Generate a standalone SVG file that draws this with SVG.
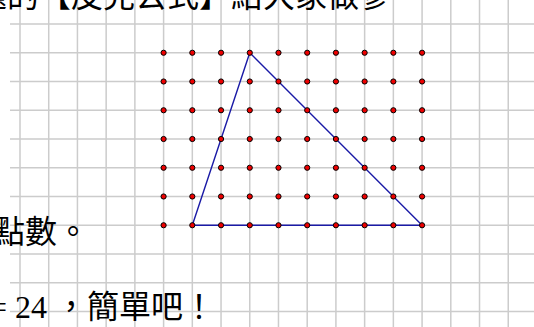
<svg xmlns="http://www.w3.org/2000/svg" xmlns:xlink="http://www.w3.org/1999/xlink" width="534" height="327" viewBox="0 0 534 327">
  <style>
    .grid { stroke: #cccccc; stroke-width: 1.5; fill: none; }
    .edge { stroke: #1a1aa6; stroke-width: 1.4; fill: none; stroke-linejoin: round; }
    .pt { fill: #ee0000; stroke: #000000; stroke-width: 1; }
    .txt { font-family: "Liberation Serif", "Noto Sans CJK TC", serif; font-size: 32px; fill: #000000; }
  </style>
  <defs>
    <circle id="dot" r="2.6" class="pt"/>
  </defs>
  <rect x="0" y="0" width="534" height="327" fill="#ffffff"/>
  <g id="grid" class="grid">
    <path d="M20,0V327 M48.72,0V327 M77.44,0V327 M106.16,0V327 M134.88,0V327 M163.6,0V327 M192.32,0V327 M221.04,0V327 M249.76,0V327 M278.48,0V327 M307.2,0V327 M335.92,0V327 M364.64,0V327 M393.36,0V327 M422.08,0V327 M450.8,0V327 M479.52,0V327 M508.24,0V327"/>
    <path d="M10,24H534 M10,52.75H534 M10,81.5H534 M10,110.25H534 M10,139H534 M10,167.75H534 M10,196.5H534 M10,225.25H534 M10,254H534 M10,282.75H534 M10,311.5H534"/>
  </g>
  <g id="texts">
    <text class="txt" x="-25" y="7">題的【皮克公式】給大家做參</text>
    <text class="txt" x="-7" y="243">點數。</text>
    <text class="txt" x="-11" y="318">= 24 ，簡單吧！</text>
  </g>
  <g id="connectors">
    <path id="triangle" class="edge" d="M192.32,225.25 L249.76,52.75 L422.08,225.25 Z"/>
  </g>
  <g id="points">
    <g id="row1">
      <use xlink:href="#dot" x="163.6" y="52.75"/><use xlink:href="#dot" x="192.32" y="52.75"/><use xlink:href="#dot" x="221.04" y="52.75"/><use xlink:href="#dot" x="249.76" y="52.75"/><use xlink:href="#dot" x="278.48" y="52.75"/><use xlink:href="#dot" x="307.2" y="52.75"/><use xlink:href="#dot" x="335.92" y="52.75"/><use xlink:href="#dot" x="364.64" y="52.75"/><use xlink:href="#dot" x="393.36" y="52.75"/><use xlink:href="#dot" x="422.08" y="52.75"/>
    </g>
    <g id="row2">
      <use xlink:href="#dot" x="163.6" y="81.5"/><use xlink:href="#dot" x="192.32" y="81.5"/><use xlink:href="#dot" x="221.04" y="81.5"/><use xlink:href="#dot" x="249.76" y="81.5"/><use xlink:href="#dot" x="278.48" y="81.5"/><use xlink:href="#dot" x="307.2" y="81.5"/><use xlink:href="#dot" x="335.92" y="81.5"/><use xlink:href="#dot" x="364.64" y="81.5"/><use xlink:href="#dot" x="393.36" y="81.5"/><use xlink:href="#dot" x="422.08" y="81.5"/>
    </g>
    <g id="row3">
      <use xlink:href="#dot" x="163.6" y="110.25"/><use xlink:href="#dot" x="192.32" y="110.25"/><use xlink:href="#dot" x="221.04" y="110.25"/><use xlink:href="#dot" x="249.76" y="110.25"/><use xlink:href="#dot" x="278.48" y="110.25"/><use xlink:href="#dot" x="307.2" y="110.25"/><use xlink:href="#dot" x="335.92" y="110.25"/><use xlink:href="#dot" x="364.64" y="110.25"/><use xlink:href="#dot" x="393.36" y="110.25"/><use xlink:href="#dot" x="422.08" y="110.25"/>
    </g>
    <g id="row4">
      <use xlink:href="#dot" x="163.6" y="139"/><use xlink:href="#dot" x="192.32" y="139"/><use xlink:href="#dot" x="221.04" y="139"/><use xlink:href="#dot" x="249.76" y="139"/><use xlink:href="#dot" x="278.48" y="139"/><use xlink:href="#dot" x="307.2" y="139"/><use xlink:href="#dot" x="335.92" y="139"/><use xlink:href="#dot" x="364.64" y="139"/><use xlink:href="#dot" x="393.36" y="139"/><use xlink:href="#dot" x="422.08" y="139"/>
    </g>
    <g id="row5">
      <use xlink:href="#dot" x="163.6" y="167.75"/><use xlink:href="#dot" x="192.32" y="167.75"/><use xlink:href="#dot" x="221.04" y="167.75"/><use xlink:href="#dot" x="249.76" y="167.75"/><use xlink:href="#dot" x="278.48" y="167.75"/><use xlink:href="#dot" x="307.2" y="167.75"/><use xlink:href="#dot" x="335.92" y="167.75"/><use xlink:href="#dot" x="364.64" y="167.75"/><use xlink:href="#dot" x="393.36" y="167.75"/><use xlink:href="#dot" x="422.08" y="167.75"/>
    </g>
    <g id="row6">
      <use xlink:href="#dot" x="163.6" y="196.5"/><use xlink:href="#dot" x="192.32" y="196.5"/><use xlink:href="#dot" x="221.04" y="196.5"/><use xlink:href="#dot" x="249.76" y="196.5"/><use xlink:href="#dot" x="278.48" y="196.5"/><use xlink:href="#dot" x="307.2" y="196.5"/><use xlink:href="#dot" x="335.92" y="196.5"/><use xlink:href="#dot" x="364.64" y="196.5"/><use xlink:href="#dot" x="393.36" y="196.5"/><use xlink:href="#dot" x="422.08" y="196.5"/>
    </g>
    <g id="row7">
      <use xlink:href="#dot" x="163.6" y="225.25"/><use xlink:href="#dot" x="192.32" y="225.25"/><use xlink:href="#dot" x="221.04" y="225.25"/><use xlink:href="#dot" x="249.76" y="225.25"/><use xlink:href="#dot" x="278.48" y="225.25"/><use xlink:href="#dot" x="307.2" y="225.25"/><use xlink:href="#dot" x="335.92" y="225.25"/><use xlink:href="#dot" x="364.64" y="225.25"/><use xlink:href="#dot" x="393.36" y="225.25"/><use xlink:href="#dot" x="422.08" y="225.25"/>
    </g>
  </g>
</svg>
